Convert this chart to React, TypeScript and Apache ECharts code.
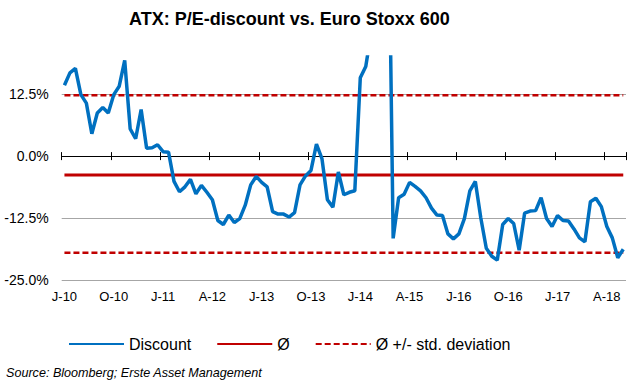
import React, { useEffect, useRef } from "react";
import * as echarts from "echarts";

const MONTH_LETTERS = ["J", "F", "M", "A", "M", "J", "J", "A", "S", "O", "N", "D"];
const START_YEAR = 10;
const MONTH_COUNT = 103; // Jan 2010 .. Jul 2018
const categories: string[] = [];
for (let i = 0; i < MONTH_COUNT; i++) {
  categories.push(MONTH_LETTERS[i % 12] + "-" + (START_YEAR + Math.floor(i / 12)));
}

const discount = [
  14.3, 16.8, 17.7, 12.4, 10.7, 4.5, 8.7, 9.8, 8.7, 12.4, 14.1, 19.3,
  5.5, 3.5, 9.4, 1.6, 1.7, 2.3, 0.9, 0.8, -5.1, -7.2, -6.2, -4.7,
  -7.6, -5.9, -7.3, -8.8, -13.0, -13.8, -11.9, -13.4, -12.6, -9.9, -5.8, -4.1,
  -5.3, -6.2, -11.2, -11.7, -11.7, -12.3, -11.4, -5.8, -4.0, -2.9, 2.4, -0.5,
  -8.8, -10.3, -3.2, -7.8, -7.3, -7.0, 15.8, 18.1, 25, 35, 48, 65,
  -16.6, -8.4, -7.7, -5.3, -6.1, -7.0, -8.4, -10.5, -11.9, -12.0, -15.7, -16.7,
  -15.7, -12.6, -7.0, -5.1, -12.5, -18.6, -20.2, -21.0, -13.8, -12.6, -13.6, -19.0,
  -11.5, -11.1, -11.0, -8.4, -12.6, -14.2, -12.0, -13.0, -13.1, -14.7, -16.5, -17.3,
  -9.2, -8.5, -10.2, -14.2, -16.5, -20.5, -18.8,
];

const MEAN = -3.8;
const STD_UPPER = 12.3;
const STD_LOWER = -19.5;

const Y_MIN = -25;
const Y_MAX = 20;
const Y_INTERVAL = 12.5;

const BLUE = "#0070C0";
const RED = "#C00000";
const FONT = "'Liberation Sans', Arial, sans-serif";

export default function App() {
  const ref = useRef<HTMLDivElement>(null);

  useEffect(() => {
    document.body.style.margin = "0";
    if (!ref.current) return;
    const chart = echarts.init(ref.current, undefined, { renderer: "svg" });
    const firstIdx = 0;
    const lastIdx = categories.length - 1;
    const zeroAxisBase = {
      type: "category",
      data: categories,
      boundaryGap: true,
      position: "bottom",
      axisLine: { show: true, onZero: true, onZeroAxisIndex: 0, lineStyle: { color: "#000", width: 1 } },
      axisLabel: { show: false },
      splitLine: { show: false },
    };
    chart.setOption({
      animation: false,
      textStyle: { fontFamily: FONT },
      title: {
        text: "ATX: P/E-discount vs. Euro Stoxx 600",
        left: 124,
        top: 5,
        textStyle: { fontSize: 18, fontWeight: "bold", color: "#000", fontFamily: FONT },
      },
      grid: { left: 61.7, right: 2, top: 57, bottom: 105, containLabel: false },
      xAxis: [
        {
          type: "category",
          data: categories,
          boundaryGap: true,
          position: "bottom",
          axisLine: { show: false, onZero: false },
          axisTick: { show: false },
          axisLabel: { interval: 8, color: "#000", fontSize: 13, margin: 10, fontFamily: FONT },
          splitLine: { show: false },
        },
        {
          ...zeroAxisBase,
          axisTick: { show: true, interval: 8, length: 4, inside: false, lineStyle: { color: "#000", width: 1 } },
        },
        {
          ...zeroAxisBase,
          axisTick: { show: true, interval: 8, length: 4, inside: true, lineStyle: { color: "#000", width: 1 } },
        },
      ],
      yAxis: {
        type: "value",
        min: Y_MIN,
        max: Y_MAX,
        interval: Y_INTERVAL,
        axisLine: { show: false },
        axisTick: { show: false },
        splitLine: { show: true, showMaxLine: false, lineStyle: { color: "#A6A6A6", width: 1 } },
        axisLabel: {
          showMaxLabel: false,
          color: "#000",
          fontSize: 14,
          margin: 13,
          fontFamily: FONT,
          formatter: (v: number) => (Math.abs(v % Y_INTERVAL) < 1e-9 ? v.toFixed(1) + "%" : ""),
        },
      },
      legend: {
        left: 63,
        top: 331,
        itemWidth: 55,
        itemHeight: 14,
        itemGap: 25,
        itemStyle: { color: "rgba(0,0,0,0)", borderWidth: 0, opacity: 0 },
        textStyle: { fontSize: 16, color: "#000", fontFamily: FONT },
        data: ["Discount", "Ø", "Ø +/- std. deviation"],
      },
      series: [
        {
          name: "Discount",
          type: "line",
          xAxisIndex: 0,
          data: discount,
          symbol: "none",
          z: 4,
          lineStyle: { color: BLUE, width: 3.5 },
          itemStyle: { color: BLUE },
        },
        {
          name: "Ø",
          type: "line",
          xAxisIndex: 0,
          data: [[firstIdx, MEAN], [lastIdx, MEAN]],
          symbol: "none",
          z: 3,
          lineStyle: { color: RED, width: 3 },
          itemStyle: { color: RED },
        },
        {
          name: "Ø +/- std. deviation",
          type: "line",
          xAxisIndex: 0,
          data: [[firstIdx, STD_UPPER], [lastIdx, STD_UPPER]],
          symbol: "none",
          z: 3,
          lineStyle: { color: RED, width: 2.5, type: [6, 3] },
          itemStyle: { color: RED },
        },
        {
          name: "Ø +/- std. deviation",
          type: "line",
          xAxisIndex: 0,
          data: [[firstIdx, STD_LOWER], [lastIdx, STD_LOWER]],
          symbol: "none",
          z: 3,
          lineStyle: { color: RED, width: 2.5, type: [6, 3] },
          itemStyle: { color: RED },
        },
      ],
      graphic: [
        {
          type: "text",
          left: 6,
          top: 366,
          style: {
            text: "Source: Bloomberg; Erste Asset Management",
            fontSize: 12.6,
            fontStyle: "italic",
            fill: "#000",
            fontFamily: FONT,
          },
        },
      ],
    });
    return () => chart.dispose();
  }, []);

  return <div ref={ref} style={{ width: 628, height: 385 }} />;
}
